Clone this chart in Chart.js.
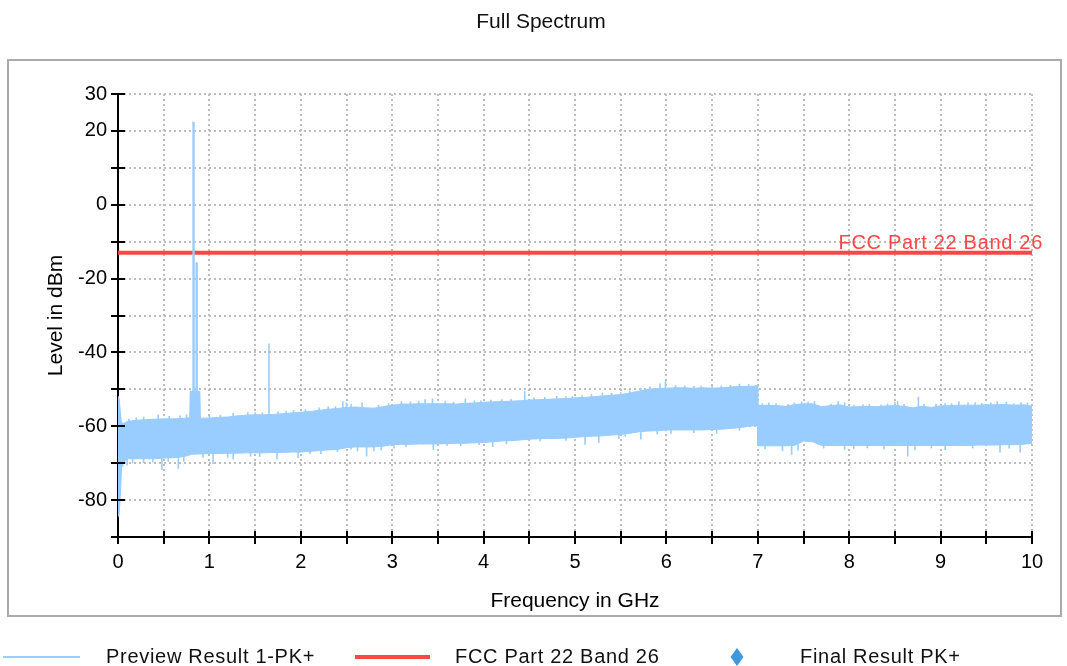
<!DOCTYPE html>
<html><head><meta charset="utf-8">
<script src="https://cdn.jsdelivr.net/npm/chart.js@4.4.1/dist/chart.umd.min.js"></script>
<style>html,body{margin:0;padding:0;background:#fff;overflow:hidden}canvas{display:block}</style>
</head><body>
<canvas id="c" width="1067" height="666"></canvas>
<script>
// ---- data ----
const chartTitle = 'Full Spectrum';
const xAxisTitle = 'Frequency in GHz';
const yAxisTitle = 'Level in dBm';
const seriesNames = ['Preview Result 1-PK+', 'FCC Part 22 Band 26', 'Final Result PK+'];

// Preview trace: body of the noise band (GHz, top edge dBm, bottom edge dBm)
const bandFreq = [0.000,0.012,0.025,0.040,0.1,0.2,0.3,0.4,0.5,0.6,0.7,0.785,0.790,0.895,0.902,
  1.0,1.1,1.2,1.3,1.4,1.5,1.6,1.7,1.8,1.9,
  2.0,2.1,2.2,2.3,2.4,2.5,2.6,2.7,2.8,2.9,
  3.0,3.1,3.2,3.3,3.4,3.5,3.6,3.7,3.8,3.9,
  4.0,4.1,4.2,4.3,4.4,4.5,4.6,4.7,4.8,4.9,
  5.0,5.1,5.2,5.3,5.4,5.5,5.6,5.7,5.8,5.9,
  6.0,6.1,6.2,6.3,6.4,6.5,6.6,6.7,6.8,6.9,
  6.996,7.000,
  7.1,7.2,7.3,7.4,7.5,7.6,7.7,7.8,7.9,8.0,
  8.1,8.2,8.3,8.4,8.5,8.6,8.7,8.8,8.9,9.0,
  9.1,9.2,9.3,9.4,9.5,9.6,9.7,9.8,9.9,10.0];
const bandTop = [-51.8,-52.5,-56.0,-59.6,-58.7,-58.4,-58.2,-58.1,-58.0,-58.0,-57.9,-57.7,-50.5,-50.5,-57.8,
  -57.8,-57.6,-57.5,-57.2,-57.0,-56.9,-56.9,-56.8,-56.6,-56.4,
  -56.2,-56.0,-55.7,-55.4,-55.2,-54.9,-54.8,-55.0,-55.1,-54.7,
  -54.3,-54.0,-54.0,-53.9,-53.9,-53.9,-53.9,-54.0,-53.8,-53.7,
  -53.5,-53.4,-53.3,-53.2,-53.1,-52.9,-52.8,-52.7,-52.6,-52.5,
  -52.3,-52.2,-52.0,-51.8,-51.6,-51.4,-51.0,-50.5,-50.0,-49.8,
  -49.7,-49.6,-49.6,-49.7,-49.6,-49.7,-49.6,-49.4,-49.2,-49.2,
  -49.1,-54.4,
  -54.3,-54.4,-54.6,-54.2,-53.9,-53.9,-54.7,-54.4,-54.2,-54.8,
  -54.7,-54.6,-54.7,-54.5,-54.4,-54.6,-55.0,-54.6,-54.9,-54.5,
  -54.4,-54.3,-54.3,-54.3,-54.2,-54.2,-54.1,-54.3,-54.2,-54.5];
const bandBottom = [-84.5,-84.0,-79.0,-70.5,-68.8,-68.8,-68.8,-68.8,-68.6,-68.5,-68.3,-67.8,-67.6,-67.5,-67.5,
  -67.4,-67.4,-67.3,-67.3,-67.2,-67.2,-67.2,-67.1,-67.1,-67.0,
  -67.0,-66.8,-66.6,-66.4,-66.3,-65.8,-65.6,-65.6,-65.6,-65.4,
  -65.0,-64.9,-64.9,-64.8,-64.8,-64.8,-64.7,-64.6,-64.6,-64.5,
  -64.4,-64.2,-64.0,-63.9,-63.7,-63.5,-63.4,-63.3,-63.3,-63.2,
  -63.0,-62.8,-62.7,-62.6,-62.4,-62.2,-61.9,-61.5,-61.3,-61.2,
  -61.0,-61.0,-61.0,-61.0,-61.0,-60.9,-60.8,-60.6,-60.4,-60.0,
  -59.8,-65.3,
  -65.3,-65.3,-65.3,-65.2,-64.0,-64.2,-65.2,-65.2,-65.2,-65.2,
  -65.2,-65.2,-65.2,-65.2,-65.2,-65.2,-65.2,-65.2,-65.2,-65.2,
  -65.2,-65.2,-65.2,-65.1,-65.1,-65.1,-65.0,-65.0,-64.9,-64.6];

// Narrow peaks sticking up out of the band (GHz, dBm)
const peakFreq = [0.12,0.20,0.28,0.44,0.56,0.68,0.75,
  1.00,1.12,1.26,1.42,1.50,1.58,1.652,1.75,1.84,1.92,
  2.05,2.20,2.30,2.38,2.46,2.50,2.55,2.67,2.85,2.96,
  3.10,3.20,3.29,3.36,3.44,3.58,3.67,3.80,3.90,3.97,
  4.08,4.20,4.30,4.45,4.55,4.67,4.80,4.90,4.97,
  5.08,5.18,5.30,5.40,5.50,5.60,5.72,5.82,5.93,5.99,
  6.10,6.20,6.30,6.38,6.50,6.60,6.70,6.80,6.90,6.98,
  7.05,7.12,7.20,7.33,7.40,7.48,7.55,7.62,7.80,7.88,7.95,
  8.05,8.15,8.22,8.35,8.42,8.50,8.53,8.60,8.757,8.82,8.95,
  9.05,9.12,9.20,9.30,9.38,9.45,9.55,9.62,9.72,9.80,9.88,9.95];
const peakLevel = [-58.0,-57.6,-57.4,-56.8,-57.2,-57.1,-56.8,
  -57.2,-56.9,-56.4,-56.2,-56.2,-56.3,-37.6,-56.0,-55.8,-55.6,
  -55.4,-54.9,-54.6,-54.6,-53.2,-53.6,-54.0,-53.6,-54.2,-53.8,
  -53.2,-53.3,-53.2,-52.7,-52.5,-53.2,-53.4,-52.5,-53.0,-53.0,
  -52.8,-52.7,-52.6,-50.5,-52.2,-52.1,-51.8,-51.9,-51.9,
  -51.6,-51.3,-51.0,-51.0,-50.8,-50.3,-49.6,-49.2,-48.4,-47.7,
  -48.9,-49.0,-49.1,-49.0,-49.1,-49.0,-48.8,-48.5,-48.6,-48.8,
  -53.8,-53.6,-53.8,-54.0,-53.6,-53.3,-53.3,-53.2,-53.9,-53.2,-53.5,
  -54.2,-54.1,-54.0,-54.1,-53.9,-53.4,-53.2,-54.0,-52.0,-54.0,-54.0,
  -53.8,-53.8,-53.2,-53.6,-53.5,-53.7,-53.6,-53.2,-53.4,-53.8,-53.5,-53.6];

// Narrow dips hanging below the band (GHz, dBm)
const dipFreq = [0.05,0.10,0.16,0.28,0.38,0.48,0.55,0.66,0.72,0.93,
  1.04,1.20,1.26,1.45,1.55,1.74,1.97,
  2.10,2.22,2.40,2.55,2.62,2.72,2.80,2.88,
  3.02,3.15,3.45,3.60,3.75,3.95,
  4.10,4.25,4.62,4.90,
  5.11,5.26,5.48,5.55,5.72,5.90,
  6.05,6.30,6.55,6.80,
  7.08,7.27,7.37,7.44,7.72,7.95,
  8.05,8.20,8.38,8.64,8.72,8.90,
  9.05,9.35,9.65,9.75,9.87];
const dipLevel = [-71.0,-70.6,-70.0,-70.0,-69.8,-71.8,-69.6,-71.5,-69.6,-68.5,
  -70.2,-68.5,-69.0,-68.2,-68.3,-69.0,-68.6,
  -67.6,-67.5,-66.9,-66.3,-66.8,-68.2,-66.8,-66.6,
  -66.0,-65.6,-66.4,-65.3,-65.4,-65.1,
  -65.6,-64.8,-64.1,-63.9,
  -65.0,-64.5,-63.4,-62.8,-63.6,-62.2,
  -62.0,-61.8,-62.0,-61.2,
  -66.2,-66.8,-67.7,-66.6,-66.0,-66.4,
  -66.2,-66.0,-66.2,-68.2,-66.5,-66.0,
  -66.4,-66.0,-67.1,-66.0,-67.1];

// Carrier spikes (GHz, dBm), rising from the shoulder at -52 dBm
const carrierFreq = [0.8265, 0.8605];
const carrierLevel = [22.5, -15.6];
const carrierFoot = -52;
const needleFoot = -59;   // level inside the band where peaks / dips start

// Limit line
const limitFreq = [0, 10];
const limitLevel = [-13, -13];

// Final result (no points shown in the reference)
const finalFreq = [];
const finalLevel = [];

// Axis ranges / ticks
const xMin = 0, xMax = 10, xStep = 0.5;
const yMin = -90, yMax = 30, yStep = 10;
const yLabelValues = [30, 20, 0, -20, -40, -60, -80];

// ---- build ----
const FONT = '"Liberation Sans", Arial, sans-serif';
const toXY = (xs, ys) => xs.map((x, i) => ({x: x, y: ys[i]}));
const toBars = (xs, ys, foot) => xs.map((x, i) => ({x: x, y: [foot, ys[i]]}));
const colPreview = '#99ccff';
const colLimit = '#ff4646';
const colFinal = '#3f97dc';

const decor = {
  id: 'decor',
  beforeDraw(chart) {
    const ctx = chart.ctx;
    ctx.save();
    ctx.fillStyle = '#fff';
    ctx.fillRect(0, 0, chart.width, chart.height);
    ctx.strokeStyle = '#ababab';
    ctx.lineWidth = 2;
    ctx.strokeRect(8, 60, 1053, 556);
    ctx.fillStyle = '#111';
    ctx.font = '21px ' + FONT;
    ctx.textAlign = 'center';
    ctx.textBaseline = 'middle';
    ctx.fillText(chartTitle, 541, 22);
    ctx.restore();
  },
  afterDraw(chart) {
    const ctx = chart.ctx;
    const xs = chart.scales.x, ys = chart.scales.y;
    ctx.save();
    ctx.strokeStyle = '#000';
    ctx.lineWidth = 2;
    ctx.beginPath();
    ys.ticks.forEach(t => {
      if (t.value === yMin) return;
      const py = Math.round(ys.getPixelForValue(t.value));
      ctx.moveTo(xs.left, py); ctx.lineTo(xs.left + 7, py);
    });
    xs.ticks.forEach(t => {
      if (t.value === xMin) return;
      const px = Math.round(xs.getPixelForValue(t.value));
      ctx.moveTo(px, ys.bottom); ctx.lineTo(px, ys.bottom - 6);
    });
    ctx.stroke();

    if ('letterSpacing' in ctx) ctx.letterSpacing = '0.7px';
    // limit label
    ctx.fillStyle = colLimit;
    ctx.font = '20px ' + FONT;
    ctx.textAlign = 'right';
    ctx.textBaseline = 'alphabetic';
    ctx.fillText(seriesNames[1], xs.getPixelForValue(xMax) + 11, ys.getPixelForValue(limitLevel[0]) - 4);

    // legend
    const ly = 657;
    ctx.textAlign = 'left';
    ctx.textBaseline = 'middle';
    ctx.lineWidth = 2;
    ctx.strokeStyle = colPreview;
    ctx.beginPath(); ctx.moveTo(3, ly); ctx.lineTo(80, ly); ctx.stroke();
    ctx.fillStyle = '#111';
    ctx.fillText(seriesNames[0], 106, ly);
    ctx.lineWidth = 4;
    ctx.strokeStyle = colLimit;
    ctx.beginPath(); ctx.moveTo(355, ly); ctx.lineTo(430, ly); ctx.stroke();
    ctx.fillText(seriesNames[1], 455, ly);
    ctx.fillStyle = colFinal;
    ctx.beginPath();
    ctx.moveTo(737, ly - 9); ctx.lineTo(743.5, ly); ctx.lineTo(737, ly + 9); ctx.lineTo(730.5, ly); ctx.closePath();
    ctx.fill();
    ctx.fillStyle = '#111';
    ctx.fillText(seriesNames[2], 800, ly);
    ctx.restore();
  }
};

const barCommon = {type: 'bar', backgroundColor: colPreview, borderWidth: 0, grouped: false, inflateAmount: 0};

new Chart(document.getElementById('c'), {
  type: 'line',
  data: {
    datasets: [
      {label: seriesNames[0], data: toXY(bandFreq, bandTop), borderColor: colPreview, borderWidth: 1, pointRadius: 0, fill: false, tension: 0},
      {label: seriesNames[0] + ' (bottom)', data: toXY(bandFreq, bandBottom), borderColor: colPreview, backgroundColor: colPreview, borderWidth: 1, pointRadius: 0, fill: '-1', tension: 0},
      Object.assign({label: seriesNames[0] + ' (peaks)', data: toBars(peakFreq, peakLevel, needleFoot), barThickness: 1.6}, barCommon),
      Object.assign({label: seriesNames[0] + ' (dips)', data: toBars(dipFreq, dipLevel, needleFoot), barThickness: 1.6}, barCommon),
      Object.assign({label: seriesNames[0] + ' (carrier)', data: toBars(carrierFreq, carrierLevel, carrierFoot), barThickness: 2.4}, barCommon),
      {label: seriesNames[1], data: toXY(limitFreq, limitLevel), borderColor: colLimit, borderWidth: 4, pointRadius: 0, fill: false},
      {label: seriesNames[2], type: 'scatter', data: toXY(finalFreq, finalLevel), backgroundColor: colFinal, pointStyle: 'rectRot', pointRadius: 7}
    ]
  },
  options: {
    responsive: false,
    animation: false,
    devicePixelRatio: 1,
    events: [],
    layout: {padding: {left: 0, top: 94, right: 35, bottom: 0}},
    plugins: {legend: {display: false}, title: {display: false}, tooltip: {enabled: false}},
    scales: {
      x: {
        type: 'linear', min: xMin, max: xMax, offset: false,
        afterFit: s => { s.height = 129; },
        ticks: {stepSize: xStep, autoSkip: false, maxRotation: 0, padding: 6, color: '#000', font: {family: FONT, size: 20},
          callback: v => (Math.abs(v - Math.round(v)) < 1e-9 ? String(Math.round(v)) : '')},
        grid: {offset: false, color: '#bdbdbd', lineWidth: 2, tickColor: '#000', tickLength: 7, tickWidth: 2},
        border: {display: true, color: '#000', width: 2, dash: [2, 3]},
        title: {display: true, text: xAxisTitle, color: '#000', font: {family: FONT, size: 21}, padding: {top: 0, bottom: 52}}
      },
      y: {
        type: 'linear', min: yMin, max: yMax, beginAtZero: false,
        afterFit: s => { s.width = 118; },
        ticks: {stepSize: yStep, autoSkip: false, padding: 4, color: '#000', font: {family: FONT, size: 20},
          callback: v => (yLabelValues.includes(v) ? String(v) : '')},
        grid: {color: '#bdbdbd', lineWidth: 2, tickColor: '#000', tickLength: 7, tickWidth: 2},
        border: {display: true, color: '#000', width: 2, dash: [2, 3]},
        title: {display: true, text: yAxisTitle, color: '#000', font: {family: FONT, size: 21}, padding: {top: 44, bottom: 0}}
      }
    }
  },
  plugins: [decor]
});
</script>
</body></html>
